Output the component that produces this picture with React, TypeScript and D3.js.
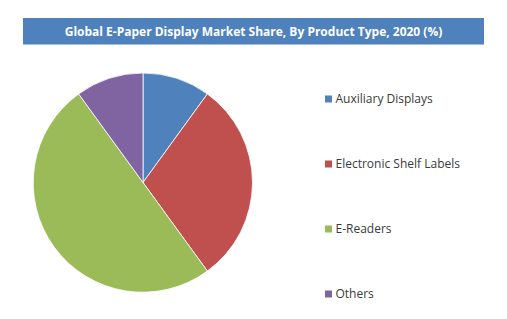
import React from "react";
import * as d3 from "d3";

const categories = ["Auxiliary Displays", "Electronic Shelf Labels", "E-Readers", "Others"];
const shares = [10, 30, 50, 10];
const colors = ["#4f81bd", "#c0504d", "#9bbb59", "#8064a2"];
const title = "Global E-Paper Display Market Share, By Product Type, 2020 (%)";

export default function App() {
  const W = 507, H = 319;
  const cx = 143, cy = 182.5, r = 109.5;
  const pie = d3.pie<number>().sort(null).value((d) => d);
  const arcs = pie(shares);
  const arc = d3.arc<d3.PieArcDatum<number>>().innerRadius(0).outerRadius(r);
  const legendY = d3.scalePoint<string>().domain(categories).range([99, 294]);
  return (
    <svg width={W} height={H} style={{ position: "absolute", left: 0, top: 0, background: "#fff" }}>
      <rect x={23} y={18} width={461} height={26.5} fill="#4f81bd" />
      <text x={253.5} y={35.5} textAnchor="middle" fill="#fff" fontFamily="Open Sans, sans-serif" fontWeight="bold" fontSize={12}>
        {title}
      </text>
      <g transform={`translate(${cx},${cy})`}>
        {arcs.map((a, i) => (
          <path key={i} d={arc(a) || ""} fill={colors[i]} stroke="#fff" strokeWidth={0.8} />
        ))}
      </g>
      {categories.map((c, i) => (
        <g key={c} transform={`translate(325,${legendY(c)})`}>
          <rect x={0} y={-3.5} width={7} height={7} fill={colors[i]} />
          <text x={10.5} y={4.2} fill="#3a3a3a" fontFamily="Open Sans, sans-serif" fontSize={12}>
            {c}
          </text>
        </g>
      ))}
    </svg>
  );
}
